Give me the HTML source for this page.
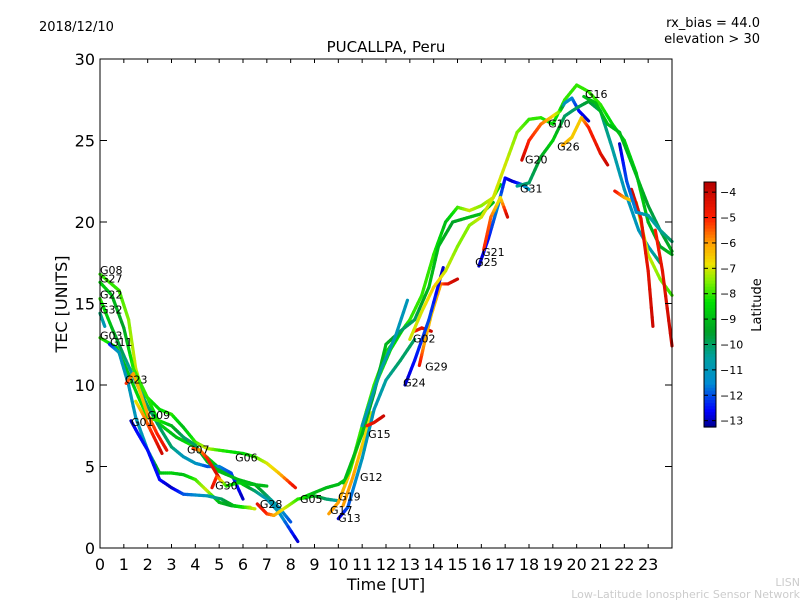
<!DOCTYPE html>
<html><head><meta charset="utf-8"><style>
body{margin:0;background:#fff;width:800px;height:600px;overflow:hidden}
svg text{font-family:"DejaVu Sans","Liberation Sans",sans-serif}
</style></head><body>
<svg id="c" width="800" height="600" xmlns="http://www.w3.org/2000/svg">
<text x="39" y="31" font-size="13">2018/12/10</text>
<text x="760" y="27" font-size="13" text-anchor="end">rx_bias = 44.0</text>
<text x="760" y="43" font-size="13" text-anchor="end">elevation &gt; 30</text>
<text x="386" y="52" font-size="15" text-anchor="middle">PUCALLPA, Peru</text>
<text x="386" y="590" font-size="16" text-anchor="middle">Time [UT]</text>
<text x="67" y="304" font-size="16" text-anchor="middle" transform="rotate(-90 67 304)">TEC [UNITS]</text>
<text x="800" y="586" font-size="11" fill="#ccc" text-anchor="end">LISN</text>
<text x="800" y="598" font-size="11" fill="#ccc" text-anchor="end">Low-Latitude Ionospheric Sensor Network</text>
<g id="marks"></g>
<g id="axes"></g>
<g id="cbar"></g>
</svg>
<script>
const xTicks=[0,1,2,3,4,5,6,7,8,9,10,11,12,13,14,15,16,17,18,19,20,21,22,23];
const yTicks=[0,5,10,15,20,25,30];
const cbTicks=[-4,-5,-6,-7,-8,-9,-10,-11,-12,-13];
const tracks=[
[[0,16.8,-8],[0.8,15.8,-8],[1.2,14,-7.5],[1.5,11,-7],[1.8,9.5,-8],[2.5,8.5,-8.5],[3,8.2,-8],[3.5,7.4,-9],[4,6.5,-8],[4.5,6.1,-7],[5,6,-8],[6,5.8,-8.5],[6.5,5.6,-8],[7,5.2,-7],[7.5,4.6,-6.5],[8.2,3.7,-4.5]],
[[0,16.3,-8.5],[0.5,15.5,-9],[1,13.5,-9.5],[1.4,11,-8],[2,9.2,-8],[2.5,7.6,-8.5],[3.2,6.8,-9],[4,6.2,-8],[5,4.9,-9],[6,3.9,-8.5],[6.5,3.5,-10],[7,3,-11],[7.5,2.2,-11],[8.3,0.4,-13]],
[[0,15.3,-8],[0.5,13.5,-9],[1,11.8,-10],[1.5,10.2,-11],[2,8.7,-10],[2.5,7.4,-10],[3,6.2,-10],[3.5,5.6,-11],[4,5.2,-11],[4.5,5,-12],[5,5,-11.5],[5.5,4.6,-12],[6,3,-13]],
[[0,14.4,-10],[0.2,13.6,-11]],
[[0,12.9,-8],[0.7,12.3,-8.5],[1.1,11,-9],[1.6,9.3,-8.5],[2,8,-8],[2.5,7.8,-8],[3,7.5,-9],[3.5,6.8,-10],[4,6.3,-10],[4.5,5.3,-9],[5,4.7,-9],[5.8,4.2,-9],[6.5,3.9,-9],[7,3.2,-10],[7.5,2.5,-11],[8,1.6,-12]],
[[0.4,12.5,-12.5],[0.8,12,-11],[1.2,10,-11],[1.5,8,-11],[2,6,-11],[2.5,4.6,-9],[3,4.6,-8.5],[3.5,4.5,-9],[4,4.2,-8],[4.5,3.5,-7],[5,2.8,-9],[5.5,2.6,-9.5],[6,2.5,-8],[6.3,2.5,-7]],
[[1.3,7.8,-13],[1.6,7,-12.5],[2,6,-12.5],[2.5,4.2,-12.5],[3,3.7,-13],[3.5,3.3,-12],[4.5,3.2,-11],[5.1,3,-10],[5.6,2.6,-9],[6.1,2.5,-8],[6.5,2.4,-7]],
[[1.1,10.1,-5],[1.4,10.7,-6],[1.7,9.5,-6.5],[2,8.2,-6],[2.4,7,-5],[2.8,6,-4.5]],
[[1.5,9,-7],[1.8,8.2,-6],[2.2,7,-5],[2.6,5.8,-4]],
[[3.9,6.1,-5],[4.2,6,-6],[4.5,5.5,-5],[5,4.3,-4]],
[[4.7,3.7,-4.5],[4.9,4.4,-5],[5.3,3.8,-8],[5.8,4,-8.5],[6.4,3.9,-9],[7,3.8,-9]],
[[6.6,2.7,-4.5],[7,2.1,-5],[7.3,2,-6],[7.8,2.5,-7],[8.3,3,-8],[9,3.2,-9],[9.5,3,-10],[10,2.9,-10.5]],
[[8.5,3.1,-8],[9,3.4,-9],[9.5,3.7,-9],[10,3.9,-9],[10.4,4.3,-9]],
[[9.6,2.1,-6],[10,2.8,-6],[10.4,4.3,-6.5],[10.8,6.2,-7],[11.2,8.5,-7.5],[11.7,10.5,-8],[12.2,12.2,-8.5],[12.7,13.4,-8]],
[[10.2,2.6,-6],[10.6,4.3,-6],[11,6.3,-6.5],[11.4,8.3,-7]],
[[10,1.8,-13],[10.4,2.5,-12],[11,5.5,-11],[11.5,8.5,-11],[12,10.3,-10.5],[12.6,11.5,-10],[13.2,12.8,-10]],
[[10.2,4,-9],[10.5,4.8,-8],[11,7.5,-8],[11.5,10,-8],[12,12,-8],[12.5,13,-9],[13,14,-8],[13.5,15.5,-8],[14,18,-8],[14.5,20,-9],[15,20.9,-8],[15.5,20.7,-7],[16,21,-7.5],[16.5,21.5,-7],[16.8,22.3,-9]],
[[10.3,4.3,-9],[11,7,-9],[11.5,9.5,-9.5],[12,12.5,-9],[12.6,13.3,-10],[13.2,14,-10],[13.8,16,-9],[14.2,18.5,-9],[14.8,20,-9.5],[15.5,20.3,-9],[16,20.5,-9],[16.5,21.2,-9]],
[[11,7.5,-11],[11.8,11,-10.5],[12.4,13,-11],[12.9,15.2,-11]],
[[11.2,7.5,-5],[11.5,7.7,-4.5],[11.9,8.1,-4]],
[[13.2,13.3,-5],[13.5,13.5,-4.5],[13.9,13.3,-4]],
[[13.4,11.2,-4.5],[13.6,12.5,-6],[13.9,14.3,-6.5],[14.3,16.2,-6],[14.6,16.2,-4.5],[15,16.5,-4]],
[[12.8,10,-13],[13.2,11.5,-12.5],[13.8,14,-12],[14.4,17.2,-13]],
[[13,12.8,-7],[13.5,14.5,-7],[14,16,-6.5],[14.5,17,-7],[15,18.5,-7.5],[15.5,19.8,-7.5],[16,20.3,-7],[16.5,21.5,-7],[17,23.5,-7],[17.5,25.5,-7.5],[18,26.3,-8],[18.5,26.4,-8],[19,26,-8.5],[19.5,27.5,-8],[20,28.4,-8],[20.5,28,-8],[21,27.2,-8],[21.5,26,-8.5],[22,25,-8.5],[22.5,23,-8.5],[23,20,-9],[23.5,18.5,-9.5],[24,18,-9]],
[[15.9,17.3,-13],[16.3,19,-12.5],[16.7,21,-11.5],[17,22.7,-12.5],[17.3,22.5,-13],[17.7,22.3,-12],[18,22,-11]],
[[16.1,18.3,-5],[16.4,20.3,-5.5],[16.8,21.5,-7],[17.1,20.3,-4]],
[[17.7,23.8,-4],[18,25,-5],[18.5,26,-5.5],[19,26.5,-6.5],[19.3,26.8,-7.5],[19.5,27.3,-11],[19.8,27.6,-11.5],[20.1,26.8,-12.5],[20.5,26.2,-13]],
[[17.5,22.2,-10.5],[18,22.4,-10],[18.5,24,-9.5],[19,25,-8.5],[19.5,26.5,-10],[20,27,-10],[20.5,27.4,-9.5],[21,26.8,-10],[21.5,24.5,-10.5],[22,22,-11],[22.6,19.5,-11],[23,18.5,-11],[23.5,17.5,-10]],
[[19.4,24.7,-6],[19.8,25.2,-6.5],[20.2,26.4,-6.5],[20.5,25.8,-5],[21,24.2,-4.5],[21.3,23.5,-4]],
[[20.3,27.7,-9],[20.8,27.3,-9],[21.3,26,-9],[21.8,25.5,-9],[22.2,24,-9],[22.6,22.5,-9],[23,21,-9.5],[23.5,19.5,-10],[24,18.2,-9]],
[[21.6,21.9,-4.5],[22,21.5,-6],[22.5,21.2,-7],[23,18,-7],[23.5,16.5,-7.5],[24,15.5,-8]],
[[22.3,22,-4],[22.7,20.2,-4.5],[23,17,-4.5],[23.2,13.6,-4]],
[[23.3,19.5,-5],[23.6,17,-4.5],[24,12.4,-4]],
[[21.8,24.8,-13],[22.1,22.5,-12],[22.5,20.6,-11.5],[23,20.4,-10.5],[23.5,19.5,-10.5],[24,18.8,-10]]
];
const labelNames=["G08","G27","G22","G32","G03","G11","G23","G01","G09","G07","G06","G30","G28","G05","G19","G17","G13","G12","G15","G24","G29","G02","G25","G21","G31","G20","G26","G10","G16"];
const labelT=[0,0,0,0,0,0.42,1.05,1.3,2.0,3.65,5.67,4.83,6.71,8.39,9.99,9.65,9.99,10.91,11.25,12.72,13.64,13.13,15.74,16.03,17.62,17.83,19.18,18.8,20.35];
const labelV=[16.8,16.3,15.3,14.4,12.8,12.4,10.1,7.5,7.9,5.8,5.3,3.6,2.45,2.76,2.9,2.1,1.6,4.1,6.75,9.9,10.9,12.6,17.3,17.9,21.8,23.6,24.4,25.8,27.6];

const NS="http://www.w3.org/2000/svg";
const X0=100,X1=672,Y0=548,Y1=59;
const xs=t=>X0+(X1-X0)*t/24, ys=v=>Y0-(Y0-Y1)*v/30;
const CBT=182,CBB=427,CMIN=-13.25,CMAX=-3.6;
const cy=l=>CBB-(CBB-CBT)*(l-CMIN)/(CMAX-CMIN);
const cmL=[-13.25,-12.6,-11.5,-10.5,-9.5,-8.3,-7.5,-6.8,-6,-5,-3.6];
const cmC=[[0,0,140],[0,0,255],[0,140,210],[0,160,160],[0,160,40],[0,225,0],[130,240,0],[240,225,0],[255,160,0],[255,30,0],[180,0,0]];
function jet(l){if(l<=cmL[0])return `rgb(${cmC[0]})`;
 for(let i=0;i<cmL.length-1;i++){if(l<=cmL[i+1]){const f=(l-cmL[i])/(cmL[i+1]-cmL[i]);
  const c=cmC[i].map((v,j)=>Math.round(v+(cmC[i+1][j]-v)*f));return `rgb(${c})`;}}
 return `rgb(${cmC[cmC.length-1]})`;}
function mk(tag,attrs,parent){const e=document.createElementNS(NS,tag);for(const k in attrs)e.setAttribute(k,attrs[k]);parent.appendChild(e);return e;}
const marks=document.getElementById('marks'),axes=document.getElementById('axes'),cb=document.getElementById('cbar');
tracks.forEach((tr,ti)=>{
 const g=mk('g',{},marks);
 
 
 for(let i=0;i<tr.length-1;i++){const a=tr[i],b=tr[i+1];const n=6;
  for(let k=0;k<n;k++){const f0=k/n,f1=(k+1)/n;
   const ln=mk('line',{x1:xs(a[0]+(b[0]-a[0])*f0),y1:ys(a[1]+(b[1]-a[1])*f0),x2:xs(a[0]+(b[0]-a[0])*f1),y2:ys(a[1]+(b[1]-a[1])*f1),stroke:jet(a[2]+(b[2]-a[2])*(f0+f1)/2),'stroke-width':3.2,'stroke-linecap':'round'},g);
   
   
  }}
});
labelNames.forEach((n,i)=>{const t=mk('text',{x:xs(labelT[i]),y:ys(labelV[i]),'font-size':11},marks);t.textContent=n;
 
 });
const fr=mk('rect',{x:X0,y:Y1,width:X1-X0,height:Y0-Y1,fill:'none',stroke:'#000','stroke-width':1},axes);


xTicks.forEach(t=>{const x=xs(t);mk('line',{x1:x,y1:Y0,x2:x,y2:Y0-4,stroke:'#000'},axes);mk('line',{x1:x,y1:Y1,x2:x,y2:Y1+4,stroke:'#000'},axes);
 const tx=mk('text',{x:x,y:570,'font-size':16,'text-anchor':'middle'},axes);tx.textContent=t;
 
 });
yTicks.forEach(v=>{const y=ys(v);mk('line',{x1:X0,y1:y,x2:X0+7,y2:y,stroke:'#000'},axes);mk('line',{x1:X1,y1:y,x2:X1-7,y2:y,stroke:'#000'},axes);
 const tx=mk('text',{x:95,y:y+6,'font-size':16,'text-anchor':'end'},axes);tx.textContent=v;
 
 });
for(let i=0;i<80;i++){const l0=CMIN+(CMAX-CMIN)*i/80,l1=CMIN+(CMAX-CMIN)*(i+1)/80;
 mk('rect',{x:704,y:cy(l1),width:12,height:cy(l0)-cy(l1)+0.6,fill:jet((l0+l1)/2)},cb);}
const cbf=mk('rect',{x:704,y:CBT,width:12,height:CBB-CBT,fill:'none',stroke:'#000'},cb);


cbTicks.forEach(l=>{const y=cy(l);mk('line',{x1:712,y1:y,x2:716,y2:y,stroke:'#000'},cb);mk('line',{x1:704,y1:y,x2:708,y2:y,stroke:'#000'},cb);
 const tx=mk('text',{x:720,y:y+4,'font-size':11},cb);tx.textContent='\u2212'+Math.abs(l);
 
 });
const ct=mk('text',{x:761,y:305,'font-size':13,'text-anchor':'middle',transform:'rotate(-90 761 305)'},cb);ct.textContent='Latitude';


</script>
</body></html>
